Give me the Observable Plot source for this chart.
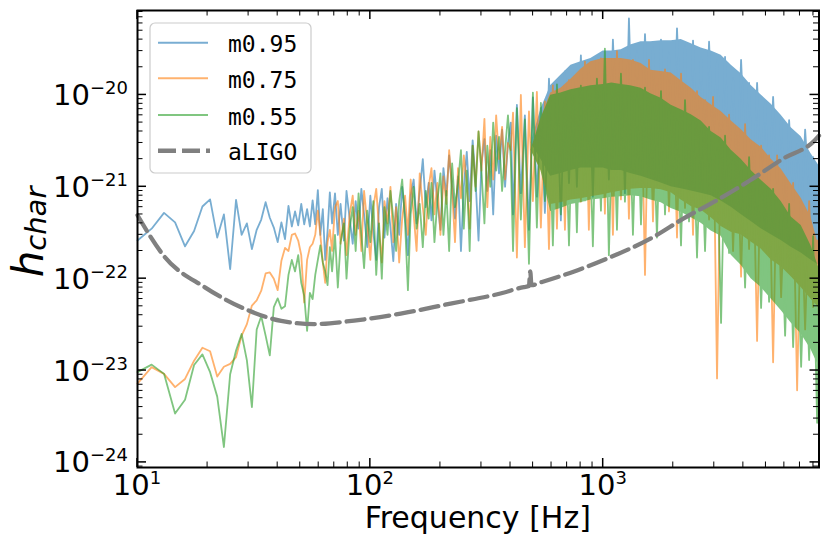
<!DOCTYPE html>
<html><head><meta charset="utf-8">
<script src="https://cdn.jsdelivr.net/npm/d3@7"></script>
<script src="https://cdn.jsdelivr.net/npm/@observablehq/plot@0.6"></script>
<style>body{margin:0;background:#fff}#chart{width:830px;height:547px}</style>
</head><body><div id="chart"></div>
<script>
// ---- data ----
const seriesNames = ["m0.95", "m0.75", "m0.55"];
const seriesColors = ["#1f77b4", "#ff7f0e", "#2ca02c"];

// low-frequency part (Hz)
const lowFreq = [10,11.5,13,14.5,16,17.5,19,20.5,22,23.5,25,26.5,28,29.5,31,32.5,34,35.5,37,38.5,40,41.5,43,44.5,46,47.5,49,50.5,52,53.5,55,56.5,58,59.5,61,62.5,64,65.5,67];
const blueLow = [2.6e-22,3.5e-22,5.2e-22,4.1e-22,2.25e-22,3.3e-22,6.1e-22,7.3e-22,2.8e-22,5.0e-22,1.27e-22,7.2e-22,3.0e-22,4.0e-22,2.1e-22,3.4e-22,4.4e-22,6.8e-22,4.6e-22,3.6e-22,2.5e-22,4.1e-22,2.7e-22,6.2e-22,3.7e-22,5.4e-22,3.8e-22,6.5e-22,3.9e-22,5.7e-22,3.7e-22,7.1e-22,3.9e-22,9.2e-22,3.0e-22,5.7e-22,1.6e-22,3.3e-22,8.7e-22];
const orangeLow = [7.2e-24,1.09e-23,9.2e-24,6.6e-24,8.1e-24,1.28e-23,1.77e-23,1.62e-23,8.6e-24,1.1e-23,1.18e-23,1.4e-23,2.4e-23,3.2e-23,5.1e-23,5.8e-23,7.4e-23,1.14e-22,1.17e-22,1.0e-22,7.5e-23,1.57e-22,2.16e-22,2.0e-22,3.0e-22,3.1e-22,2.6e-22,1.8e-22,5.5e-23,1.6e-22,2.2e-22,2.4e-22,3.0e-22,5.5e-22,3.0e-22,1.5e-22,9.0e-23,2.5e-22,3.4e-22];
const greenLow = [9.6e-24,1.16e-23,9.2e-24,3.4e-24,4.8e-24,1.15e-23,1.5e-23,9.6e-24,5.2e-24,1.47e-24,9.1e-24,1.65e-23,2.5e-23,1.29e-23,4.0e-24,2.8e-23,3.9e-23,2.4e-23,1.46e-23,4.9e-23,6.1e-23,4.7e-23,5.0e-23,1.1e-22,1.6e-22,1.2e-22,1.8e-22,9.0e-23,6.5e-23,2.7e-23,7.0e-23,6.0e-23,1.1e-22,1.6e-22,2.3e-22,1.5e-22,1.2e-22,8.5e-23,2.2e-22];

// middle part (Hz)
const midFreq = [68.5,70.5,72.5,74.5,77,79,81.5,84,86.5,89,91.5,94,97,100,103,106,109,112,115,118.5,122,125.5,129,133,137,141,145,149,153.5,158,163,168,173,178,183,188.5,194,200,206,212,218,224.5,231,238,245,252,259.5,267,275,283,291.5,300,309,318,327.5,337,347,357,368,379,390,401];
const blueMid = [4.0e-22,8.5e-22,3.0e-22,6.5e-22,2.6e-22,9.0e-22,4.5e-22,2.4e-22,7.0e-22,3.5e-22,9.5e-22,5.0e-22,2.2e-22,8.0e-22,3.2e-22,1.6e-22,6.0e-22,9.5e-22,2.8e-22,7.5e-22,3.6e-22,1.55e-22,6.5e-22,3.0e-22,1.0e-21,5.0e-22,1.8e-22,8.0e-22,1.2e-21,4.0e-22,9.0e-22,2.0e-21,6.0e-22,1.1e-21,4.3e-22,1.5e-21,7.0e-22,3.4e-22,1.6e-21,8.0e-22,2.2e-21,1.0e-21,4.5e-22,1.3e-21,2.0e-22,1.0e-21,2.4e-21,7.0e-22,3.2e-21,1.2e-21,2.6e-22,1.8e-21,3.3e-21,9.0e-22,2.5e-21,5.0e-22,3.6e-21,1.4e-21,4.2e-21,1.0e-21,3.0e-21,5.0e-21];
const orangeMid = [2.0e-22,6.0e-22,7.0e-22,2.4e-22,4.5e-22,1.8e-22,5.0e-22,8.0e-22,3.0e-22,5.5e-22,2.0e-22,9.0e-22,4.0e-22,1.6e-22,6.0e-22,9.5e-22,3.5e-22,1.5e-22,7.0e-22,4.0e-22,1.0e-21,2.5e-22,6.0e-22,1.5e-22,4.5e-22,8.0e-22,3.0e-22,1.2e-21,5.0e-22,2.0e-22,1.4e-21,6.0e-22,3.0e-22,1.0e-21,1.6e-21,5.0e-22,1.1e-21,3.0e-22,1.3e-21,6.5e-22,2.5e-21,9.0e-22,2.5e-22,1.6e-21,7.5e-22,2.2e-21,1.1e-21,3.5e-22,2.8e-21,1.0e-21,4.0e-21,1.5e-21,5.5e-21,6.0e-22,3.5e-21,1.2e-21,6.0e-21,2.0e-21,4.5e-21,1.2e-21,3.0e-21,2.5e-21];
const greenMid = [1.2e-22,3.0e-22,8.0e-23,2.5e-22,4.0e-22,1.0e-22,3.5e-22,6.0e-22,2.0e-22,8.5e-22,3.0e-22,1.3e-22,5.5e-22,2.5e-22,7.0e-22,1.1e-22,4.0e-22,1.0e-22,6.0e-22,3.0e-22,9.0e-22,4.5e-22,2.0e-22,7.0e-22,1.2e-21,4.0e-22,7.5e-23,5.0e-22,1.0e-21,3.5e-22,6.5e-22,2.2e-22,9.0e-22,4.5e-22,1.1e-21,2.5e-22,7.0e-22,1.4e-21,3.0e-22,9.0e-22,2.0e-22,1.8e-21,6.0e-22,1.1e-21,2.5e-21,3.5e-22,1.5e-21,2.0e-22,2.8e-21,9.0e-22,4.0e-21,1.5e-21,4.0e-22,2.8e-21,1.0e-21,5.0e-21,1.5e-21,3.5e-21,9.0e-22,2.5e-21,6.0e-21,2.0e-21];

// dense high-frequency part: alternating peaks and troughs (Hz)
const denseFreq = [410,426,443,461,480,499,519,540,562,585,608,633,658,685,713,741,771,802,835,868,903,940,978,1017,1058,1101,1146,1192,1240,1290,1342,1397,1453,1512,1573,1636,1702,1771,1843,1917,1995,2075,2159,2246,2337,2431,2529,2632,2738,2849,2964,3083,3208,3337,3472,3612,3758,3910,4068,4232,4403,4581,4766,4958,5158,5367,5583,5809,6044,6288,6542,6806,7081,7367,7664,7974,8296,8450];
const blueDense = [5.0e-22,7.8e-21,8.5e-22,6.0e-21,3.4e-22,9.4e-21,7.8e-22,7.2e-21,5.2e-22,1.5e-20,
  1.6e-21,1.2e-20,4.3e-22,1.8e-20,1.1e-21,1.7e-20,1.0e-21,2.7e-20,1.8e-21,2.0e-20,
  7.8e-22,2.6e-20,1.8e-21,2.0e-20,1.2e-21,4.0e-20,3.2e-21,2.9e-20,8.5e-22,6.8e-20,
  2.2e-21,3.0e-20,1.9e-21,4.6e-20,3.2e-21,3.3e-20,1.2e-21,4.0e-20,2.6e-21,2.9e-20,
  1.6e-21,5.3e-20,4.0e-21,3.5e-20,9.5e-22,3.9e-20,2.2e-21,2.6e-20,1.7e-21,3.8e-20,
  2.6e-21,2.4e-20,9.0e-22,2.6e-20,1.7e-21,1.5e-20,9.6e-22,2.4e-20,2.2e-21,1.35e-20,
  5.0e-22,1.35e-20,1.1e-21,8.5e-21,8.0e-22,9.5e-21,1.1e-21,5.6e-21,3.6e-22,5.3e-21,
  7.0e-22,2.9e-21,4.0e-22,4.2e-21,8.0e-22,2.1e-21,1.8e-22,2.0e-21];
const orangeDense = [6.4e-21,1.7e-22,1.0e-20,2.2e-22,6.6e-21,7.0e-22,1.08e-20,3.6e-22,8.5e-21,2.1e-22,
  1.27e-20,3.5e-22,9.1e-21,3.4e-22,1.45e-20,8.1e-22,1.5e-20,6.9e-22,2.3e-20,3.4e-22,
  1.6e-20,1.0e-21,2.5e-20,5.1e-22,2.0e-20,3.0e-22,3.0e-20,7.3e-22,1.9e-20,4.5e-22,
  2.4e-20,1.1e-21,2.1e-20,1.1e-22,2.4e-20,4.2e-22,1.3e-20,1.2e-21,1.9e-20,5.4e-22,
  1.4e-20,2.8e-22,1.7e-20,5.9e-22,9.8e-21,3.0e-22,1.1e-20,6.3e-22,8.8e-21,4.4e-22,
  9.5e-21,8.2e-24,4.7e-21,4.6e-22,6.1e-21,2.0e-22,3.9e-21,1.05e-22,4.8e-21,2.1e-22,
  2.5e-21,2.1e-23,2.8e-21,2.3e-22,2.2e-21,1.23e-23,2.2e-21,6.3e-23,1.0e-21,1.5e-22,
  1.1e-21,6.1e-24,6.7e-22,2.8e-23,7.0e-22,4.9e-23,2.6e-22,3.0e-23];
const greenDense = [2.0e-22,7.2e-21,4.4e-22,5.4e-21,1.45e-22,1.06e-20,3.6e-22,8.2e-21,7.0e-22,7.5e-21,
  2.3e-22,1.3e-20,5.0e-22,1.0e-20,2.3e-22,9.6e-21,3.2e-22,1.26e-20,7.1e-22,8.8e-21,
  2.25e-22,1.5e-20,5.5e-22,3.2e-20,1.8e-22,1.04e-20,3.4e-22,1.7e-20,6.9e-22,1.2e-20,
  3.0e-22,1.0e-20,3.9e-22,1.2e-20,8.0e-22,7.2e-21,2.8e-22,1.1e-20,5.0e-22,7.1e-21,
  7.7e-22,5.5e-21,2.3e-22,8.8e-21,4.2e-22,5.6e-21,1.7e-22,4.3e-21,2.0e-22,4.5e-21,
  3.4e-22,2.6e-21,3.3e-23,3.6e-21,1.9e-22,2.1e-21,3.1e-22,1.6e-21,8.0e-23,2.1e-21,
  1.26e-22,1.3e-21,4.8e-23,9.5e-22,5.6e-23,9.5e-22,1.0e-22,5.1e-22,2.4e-23,6.5e-22,
  1.8e-23,3.8e-22,1.1e-23,2.6e-22,1.3e-23,2.9e-22,2.7e-24,1.5e-22];

// solid core of the dense band (Hz)
const bandFreq = [490,540,595,658,727,802,885,1000,1090,1195,1310,1455,1600,1774,1960,2162,2390,2635,2910,3211,3550,3913,4320,4770,5270,5813,6420,7085,7800,8450];
const blueHi = [3.0e-21,7.0e-21,1.27e-20,1.64e-20,2.1e-20,2.3e-20,2.5e-20,3.0e-20,3.0e-20,3.1e-20,3.5e-20,3.8e-20,3.8e-20,3.9e-20,3.9e-20,4.0e-20,3.6e-20,3.25e-20,3.0e-20,2.7e-20,2.1e-20,1.7e-20,1.27e-20,1.0e-20,7.9e-21,6.0e-21,4.4e-21,3.5e-21,2.3e-21,1.7e-21];
const blueLo = [3.0e-21,2.0e-21,1.3e-21,1.4e-21,1.5e-21,1.6e-21,1.6e-21,1.6e-21,1.5e-21,1.5e-21,1.4e-21,1.3e-21,1.2e-21,1.1e-21,1.0e-21,9.5e-22,9.0e-22,8.5e-22,8.0e-22,7.0e-22,6.0e-22,5.0e-22,4.2e-22,3.5e-22,3.0e-22,2.6e-22,2.2e-22,1.9e-22,1.6e-22,1.4e-22];
const orangeHi = [2.5e-21,5.5e-21,1.05e-20,1.18e-20,1.48e-20,1.9e-20,2.3e-20,2.5e-20,2.5e-20,2.5e-20,2.4e-20,2.2e-20,1.86e-20,1.8e-20,1.73e-20,1.43e-20,1.18e-20,9.4e-21,7.8e-21,6.6e-21,5.2e-21,4.2e-21,3.25e-21,2.7e-21,2.0e-21,1.56e-21,1.07e-21,7.5e-22,4.7e-22,2.2e-22];
const orangeLo = [2.5e-21,1.5e-21,6.4e-22,6.7e-22,7.2e-22,7.4e-22,7.8e-22,8.2e-22,8.6e-22,9.0e-22,9.4e-22,9.6e-22,9.6e-22,9.3e-22,8.6e-22,7.2e-22,6.1e-22,5.6e-22,4.6e-22,3.7e-22,3.2e-22,3.0e-22,2.5e-22,2.1e-22,1.6e-22,1.35e-22,1.05e-22,8.0e-23,6.0e-23,4.8e-23];
const greenHi = [2.5e-21,5.5e-21,9.9e-21,1.05e-20,1.14e-20,1.2e-20,1.26e-20,1.3e-20,1.35e-20,1.3e-20,1.26e-20,1.18e-20,1.03e-20,9.2e-21,7.7e-21,6.9e-21,6.1e-21,5.2e-21,4.0e-21,3.4e-21,2.5e-21,2.0e-21,1.5e-21,1.18e-21,9.4e-22,6.9e-22,4.7e-22,3.8e-22,2.3e-22,1.3e-22];
const greenLo = [2.5e-21,1.5e-21,5.4e-22,5.8e-22,6.4e-22,6.7e-22,7.2e-22,7.4e-22,7.7e-22,7.8e-22,8.0e-22,7.8e-22,7.2e-22,6.7e-22,5.8e-22,5.3e-22,4.6e-22,4.0e-22,3.3e-22,2.9e-22,1.8e-22,1.4e-22,1.0e-22,8.0e-23,6.0e-23,4.5e-23,3.3e-23,2.5e-23,1.7e-23,1.1e-23];

// aLIGO sensitivity
const ligoFreq = [10,13.1,19.4,28.8,41.4,57.4,85.2,135,221,362,456,480,486,492,546,772,1037,1642,2208,3069,4262,5916,8091,8450];
const ligoH = [4.9e-22,1.72e-22,8.1e-23,4.7e-23,3.47e-23,3.2e-23,3.5e-23,4.16e-23,5.35e-23,6.9e-23,8.1e-23,8.3e-23,1.2e-22,8.5e-23,9.2e-23,1.23e-22,1.65e-22,2.84e-22,4.5e-22,7.1e-22,1.17e-21,2.02e-21,3.19e-21,3.6e-21];

// ticks
const xMajorTicks = [10, 100, 1000];
const xTickExp = ["1", "2", "3"];
const yMajorTicks = [1e-24, 1e-23, 1e-22, 1e-21, 1e-20];
const yTickExp = ["\u221224", "\u221223", "\u221222", "\u221221", "\u221220"];

// ---- build tables ----
const lows = [blueLow, orangeLow, greenLow];
const mids = [blueMid, orangeMid, greenMid];
const denses = [blueDense, orangeDense, greenDense];
const his = [blueHi, orangeHi, greenHi];
const los = [blueLo, orangeLo, greenLo];

const marks = [];
for (let i = 0; i < 3; i++) {
  const line = lowFreq.map((f, j) => ({f, h: lows[i][j]}))
    .concat(midFreq.map((f, j) => ({f, h: mids[i][j]})))
    .concat(denseFreq.map((f, j) => ({f, h: denses[i][j]})));
  const band = bandFreq.map((f, j) => ({f, lo: los[i][j], hi: his[i][j]}));
  marks.push(Plot.areaY(band, {x: "f", y1: "lo", y2: "hi", fill: seriesColors[i]}));
  marks.push(Plot.line(line, {x: "f", y: "h", stroke: seriesColors[i], strokeWidth: 1.8}));
}
const ligo = ligoFreq.map((f, j) => ({f, h: ligoH[j]}));
marks.push(Plot.line(ligo, {x: "f", y: "h", stroke: "#808080", strokeWidth: 4.3, strokeDasharray: "18,7", curve: "monotone-x"}));
marks.push(Plot.frame({stroke: "black", strokeWidth: 2}));

const svg = Plot.plot({
  width: 830, height: 547,
  marginLeft: 137, marginRight: 11.5, marginTop: 10, marginBottom: 80,
  style: {background: "white", fontFamily: "DejaVu Sans"},
  x: {type: "log", domain: [10, 8450], axis: null},
  y: {type: "log", domain: [8.8e-25, 8.3e-20], axis: null},
  marks
});

// one alpha per series (as a single matplotlib path): group each series' marks by colour
seriesColors.forEach(col => {
  const nodes = Array.from(svg.children).filter(c => c.tagName.toLowerCase() === "g" &&
    (c.getAttribute("stroke") === col || c.getAttribute("fill") === col));
  if (!nodes.length) return;
  const g = document.createElementNS("http://www.w3.org/2000/svg", "g");
  g.setAttribute("opacity", "0.6");
  svg.insertBefore(g, nodes[0]);
  nodes.forEach(n => g.appendChild(n));
});

const sx = svg.scale("x"), sy = svg.scale("y");
const X0 = 137, X1 = 818.5, Y0 = 10, Y1 = 467;
const root = d3.select(svg);
const axg = root.append("g").attr("stroke", "black");
function tk(x1, y1, x2, y2, w) {
  axg.append("line").attr("x1", x1).attr("y1", y1).attr("x2", x2).attr("y2", y2).attr("stroke-width", w);
}
const xMinor = [];
for (const d of [10, 100, 1000]) for (let m = 2; m <= 9; m++) if (m * d <= 8450) xMinor.push(m * d);
for (const v of xMajorTicks) { const p = sx.apply(v); tk(p, Y1, p, Y1 - 9, 1.5); tk(p, Y0, p, Y0 + 9, 1.5); }
for (const v of xMinor) { const p = sx.apply(v); tk(p, Y1, p, Y1 - 5.5, 1); tk(p, Y0, p, Y0 + 5.5, 1); }
const yMinor = [];
for (const d of [1e-25, 1e-24, 1e-23, 1e-22, 1e-21, 1e-20]) for (let m = 2; m <= 9; m++) { const v = m * d; if (v >= 8.8e-25 && v <= 8.3e-20) yMinor.push(v); }
for (const v of yMajorTicks) { const p = sy.apply(v); tk(X0, p, X0 + 9, p, 1.5); tk(X1, p, X1 - 9, p, 1.5); }
for (const v of yMinor) { const p = sy.apply(v); tk(X0, p, X0 + 5.5, p, 1); tk(X1, p, X1 - 5.5, p, 1); }

const lab = root.append("g").attr("font-family", "DejaVu Sans").attr("fill", "black");
yMajorTicks.forEach((v, i) => {
  const t = lab.append("text").attr("x", 128).attr("y", sy.apply(v) + 10.5).attr("text-anchor", "end").attr("font-size", 29);
  t.append("tspan").text("10");
  t.append("tspan").attr("font-size", 18).attr("dy", -11).text(yTickExp[i]);
});
xMajorTicks.forEach((v, i) => {
  const t = lab.append("text").attr("x", sx.apply(v)).attr("y", 495).attr("text-anchor", "middle").attr("font-size", 29);
  t.append("tspan").text("10");
  t.append("tspan").attr("font-size", 18).attr("dy", -11).text(xTickExp[i]);
});
lab.append("text").attr("x", (X0 + X1) / 2).attr("y", 528).attr("text-anchor", "middle").attr("font-size", 30).text("Frequency [Hz]");
const yl = lab.append("text").attr("transform", "translate(43,232) rotate(-90)").attr("text-anchor", "middle").attr("font-style", "italic").attr("font-size", 42);
yl.append("tspan").text("h");
yl.append("tspan").attr("font-size", 29).attr("dy", 3).text("char");

const lg = root.append("g");
lg.append("rect").attr("x", 150).attr("y", 23).attr("width", 161).attr("height", 150).attr("rx", 5)
  .attr("fill", "white").attr("fill-opacity", 0.8).attr("stroke", "#cccccc").attr("stroke-width", 1.2);
const rowsY = [42.7, 78.3, 115, 150.7];
const legendNames = seriesNames.concat(["aLIGO"]);
legendNames.forEach((name, i) => {
  const y = rowsY[i];
  if (i < 3) {
    lg.append("line").attr("x1", 158).attr("x2", 208).attr("y1", y).attr("y2", y)
      .attr("stroke", seriesColors[i]).attr("stroke-opacity", 0.6).attr("stroke-width", 2);
  } else {
    lg.append("line").attr("x1", 158).attr("x2", 210).attr("y1", y).attr("y2", y)
      .attr("stroke", "#808080").attr("stroke-width", 4.5).attr("stroke-dasharray", "18,6");
  }
  lg.append("text").attr("x", 228).attr("y", y + 9.5).attr("text-anchor", "start").attr("font-family", "DejaVu Sans Mono").attr("font-size", 23).attr("fill", "black").text(name);
});

document.getElementById("chart").appendChild(svg);
</script>
</body></html>
